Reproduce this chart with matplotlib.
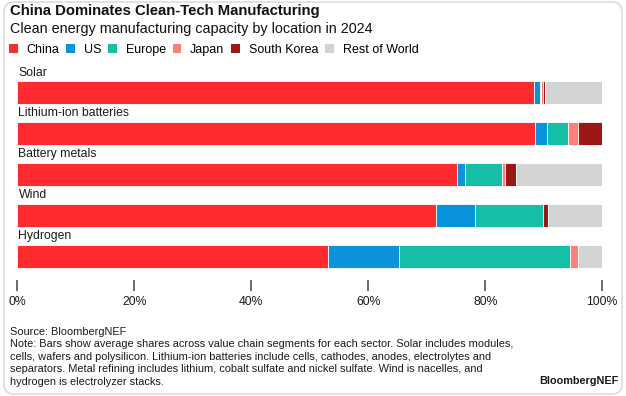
import numpy as np
import matplotlib
import matplotlib.pyplot as plt
from matplotlib.patches import FancyBboxPatch, Patch
from matplotlib.transforms import IdentityTransform

matplotlib.use('Agg')
plt.rcParams['font.family'] = ['Liberation Sans', 'DejaVu Sans']

# data (shares of capacity, %)
sectors = ['Solar', 'Lithium-ion batteries', 'Battery metals', 'Wind', 'Hydrogen']
regions = ['China', 'US', 'Europe', 'Japan', 'South Korea', 'Rest of World']
china = [88.3, 88.5, 75.2, 71.6, 53.1]
us = [1.0, 2.0, 1.4, 6.6, 12.2]
europe = [0.3, 3.6, 6.2, 11.6, 29.1]
japan = [0.2, 1.7, 0.6, 0.0, 1.5]
south_korea = [0.4, 4.1, 1.9, 1.0, 0.0]
rest_of_world = [9.8, 0.1, 14.7, 9.2, 4.1]
x_ticks = [0, 20, 40, 60, 80, 100]
x_tick_labels = ['0%', '20%', '40%', '60%', '80%', '100%']

colors = ['#ff2b2e', '#0a93da', '#14bfa6', '#ff7f7a', '#9e1717', '#d4d4d4']
series = [china, us, europe, japan, south_korea, rest_of_world]

W, H = 626, 396
fig = plt.figure(figsize=(W / 100, H / 100), dpi=100)
fig.patch.set_facecolor('white')

x0, x1 = 17.3, 602.3
row_top = 80.5
row_step = 41
bar_h = 23

# bar area: y data == pixel row from top
ax = fig.add_axes([x0 / W, 1 - 300 / H, (x1 - x0) / W, 240 / H])
ax.set_xlim(0, 100)
ax.set_ylim(300, 60)
ax.axis('off')

y_centers = [row_top + bar_h / 2 + i * row_step for i in range(len(sectors))]

left = np.zeros(len(sectors))
for vals, col, name in zip(series, colors, regions):
    ax.barh(y_centers, vals, left=left, height=bar_h, color=col,
            edgecolor='white', linewidth=0.6, label=name)
    left += np.array(vals)

for yc, name in zip(y_centers, sectors):
    ax.text(0.2, yc - bar_h / 2 - 8, name, fontsize=8.8, color='#1a1a1a',
            va='center', ha='left')

# separate thin axes for the percent scale (ticks point up from its bottom edge)
ax_x = fig.add_axes([x0 / W, 1 - 291 / H, (x1 - x0) / W, 11 / H])
ax_x.set_xlim(0, 100)
ax_x.patch.set_visible(False)
for s in ax_x.spines.values():
    s.set_visible(False)
ax_x.set_yticks([])
ax_x.set_xticks(x_ticks)
ax_x.set_xticklabels(x_tick_labels)
ax_x.tick_params(axis='x', direction='in', length=8, width=1.1, color='#444444',
                 pad=3.4, labelsize=8.8, labelcolor='#1a1a1a')

# title block
fig.text(10 / W, 1 - 11 / H, 'China Dominates Clean-Tech Manufacturing',
         fontsize=10.7, fontweight='bold', color='#111111', va='center', ha='left')
fig.text(10 / W, 1 - 29 / H, 'Clean energy manufacturing capacity by location in 2024',
         fontsize=10.4, color='#111111', va='center', ha='left')

handles = [Patch(facecolor=c, edgecolor='none') for c in colors]
fig.legend(handles, regions, loc='center left', bbox_to_anchor=(9 / W, 1 - 50 / H),
           ncol=6, frameon=False, fontsize=9, handlelength=0.7, handleheight=0.7,
           handletextpad=0.7, columnspacing=0.55, borderaxespad=0, borderpad=0)

# footnotes
note = ('Source: BloombergNEF\n'
        'Note: Bars show average shares across value chain segments for each sector. Solar includes modules,\n'
        'cells, wafers and polysilicon. Lithium-ion batteries include cells, cathodes, anodes, electrolytes and\n'
        'separators. Metal refining includes lithium, cobalt sulfate and nickel sulfate. Wind is nacelles, and\n'
        'hydrogen is electrolyzer stacks.')
fig.text(10 / W, 1 - 327 / H, note, fontsize=7.9, color='#1a1a1a', va='top', ha='left',
         linespacing=1.3)
fig.text(619 / W, 1 - 381 / H, 'BloombergNEF', fontsize=7.8, fontweight='bold',
         color='#1a1a1a', va='center', ha='right')

# card border
frame = FancyBboxPatch((4, 2), 618, 392, boxstyle='round,pad=0,rounding_size=10',
                       transform=IdentityTransform(), facecolor='none',
                       edgecolor='#d6d6d6', linewidth=1.0)
fig.patches.append(frame)

fig.savefig('out.png', dpi=100, facecolor='white')
